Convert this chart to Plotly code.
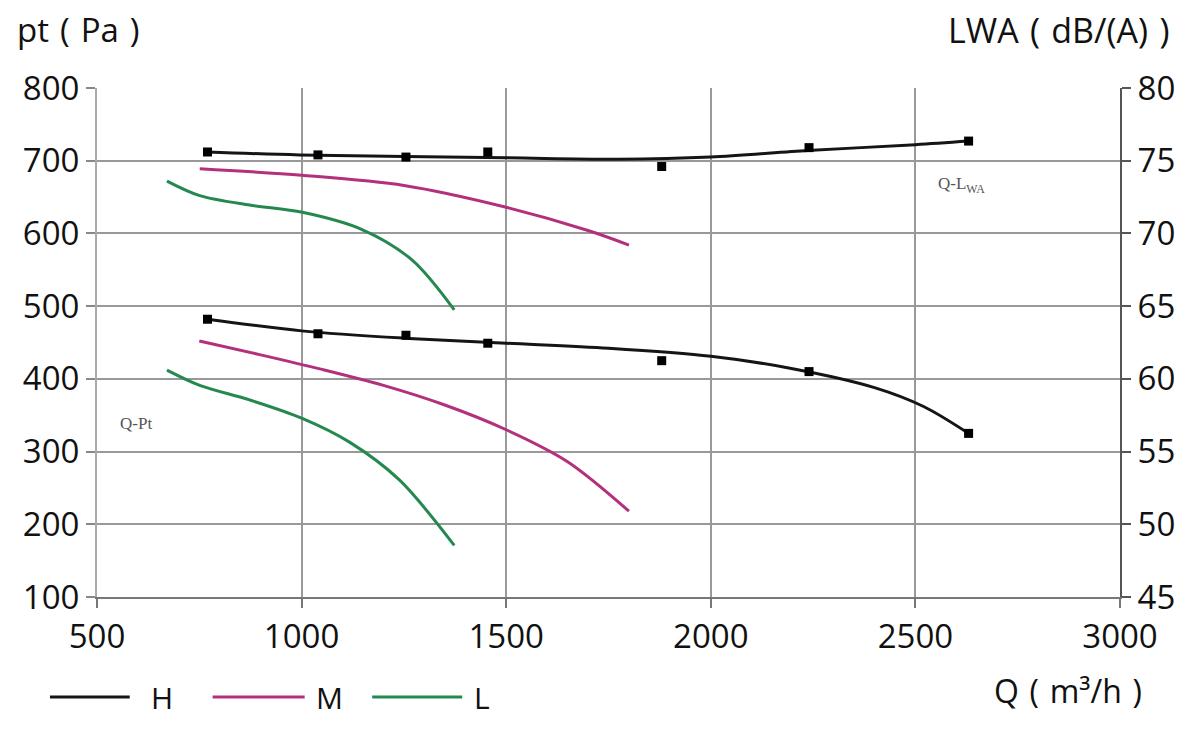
import plotly.graph_objects as go

# ---- data ----
# H : measured points
h_q_pts = [770, 1040, 1255, 1455, 1880, 2240, 2630]
h_pt_pts = [482, 462, 460, 449, 425, 410, 325]
h_lwa_pts = [75.6, 75.4, 75.25, 75.6, 74.6, 75.9, 76.35]

# H : fitted curves
h_q_line = [770, 1000, 1250, 1500, 1750, 2000, 2200, 2400, 2520, 2630]
h_pt_line = [482, 466, 456, 449, 442, 431, 414, 388, 362, 325]
h_lwa_q_line = [770, 995, 1500, 1773, 2000, 2237, 2500, 2630]
h_lwa_line = [75.6, 75.4, 75.2, 75.1, 75.25, 75.7, 76.1, 76.35]

# M curves
m_q = [750, 900, 1050, 1200, 1350, 1500, 1650, 1800]
m_pt = [452, 433, 413, 391, 364, 330, 286, 218]
m_lwa_q = [751, 1000, 1250, 1500, 1700, 1800]
m_lwa = [74.45, 74.0, 73.3, 71.8, 70.2, 69.2]

# L curves
l_q = [671, 751, 873, 1000, 1117, 1239, 1373]
l_pt = [412, 391, 371, 346, 313, 261, 171]
l_lwa_q = [671, 751, 873, 1002, 1149, 1271, 1373]
l_lwa = [73.6, 72.6, 71.95, 71.45, 70.25, 68.15, 64.75]

x_ticks = [500, 1000, 1500, 2000, 2500, 3000]
y_ticks = [100, 200, 300, 400, 500, 600, 700, 800]
y2_ticks = [45, 50, 55, 60, 65, 70, 75, 80]

BLACK = "#151515"
MAGENTA = "#b3307c"
GREEN = "#25894f"
FONT = "Open Sans"
SP = "\u2004"

fig = go.Figure()

def line(x, y, color, axis="y"):
    fig.add_trace(go.Scatter(x=x, y=y, mode="lines", yaxis=axis,
                             line=dict(color=color, width=3, shape="spline", smoothing=0.9),
                             showlegend=False, hoverinfo="skip"))

line(l_q, l_pt, GREEN)
line(m_q, m_pt, MAGENTA)
line(h_q_line, h_pt_line, BLACK)
line(l_lwa_q, l_lwa, GREEN, "y2")
line(m_lwa_q, m_lwa, MAGENTA, "y2")
line(h_lwa_q_line, h_lwa_line, BLACK, "y2")

fig.add_trace(go.Scatter(x=h_q_pts, y=h_pt_pts, mode="markers",
                         marker=dict(symbol="square", size=9, color="#000"),
                         showlegend=False))
fig.add_trace(go.Scatter(x=h_q_pts, y=h_lwa_pts, mode="markers", yaxis="y2",
                         marker=dict(symbol="square", size=9, color="#000"),
                         showlegend=False))

# ---- manual legend ----
legend_items = [("H", BLACK, -0.046, 0.032, 0.064),
                ("M", MAGENTA, 0.113, 0.203, 0.227),
                ("L", GREEN, 0.269, 0.357, 0.376)]
shapes = []
annotations = []
for name, col, x0, x1, xt in legend_items:
    shapes.append(dict(type="line", xref="paper", yref="paper", x0=x0, x1=x1,
                       y0=-0.1965, y1=-0.1965, line=dict(color=col, width=3)))
    annotations.append(dict(text=name, xref="paper", yref="paper", x=xt, y=-0.1965,
                            xanchor="center", yanchor="middle", showarrow=False,
                            font=dict(family=FONT, size=30, color="#111")))

annotations += [
    dict(text=f"pt{SP}({SP}Pa{SP})", xref="paper", yref="paper", x=-0.080, y=1.114,
         xanchor="left", yanchor="middle", showarrow=False,
         font=dict(family=FONT, size=33, color="#111")),
    dict(text=f"LWA{SP}({SP}dB/(A){SP})", xref="paper", yref="paper", x=1.05, y=1.114,
         xanchor="right", yanchor="middle", showarrow=False,
         font=dict(family=FONT, size=34, color="#111")),
    dict(text=f"Q{SP}({SP}m³/h{SP})", xref="paper", yref="paper", x=0.949, y=-0.183,
         xanchor="center", yanchor="middle", showarrow=False,
         font=dict(family=FONT, size=32, color="#111")),
    dict(text="Q-Pt", x=595, y=339, xref="x", yref="y", showarrow=False,
         xanchor="center", yanchor="middle",
         font=dict(family="Liberation Serif", size=17, color="#555")),
    dict(text="Q-L<sub>WA</sub>", x=2612, y=667, xref="x", yref="y", showarrow=False,
         xanchor="center", yanchor="middle",
         font=dict(family="Liberation Serif", size=17, color="#555")),
]

fig.update_layout(
    width=1200, height=733,
    margin=dict(l=97, r=80, t=88, b=136),
    paper_bgcolor="white", plot_bgcolor="white",
    showlegend=False,
    shapes=shapes, annotations=annotations,
    xaxis=dict(range=[500, 3000], tickvals=x_ticks, showgrid=True,
               gridcolor="#999", gridwidth=2, zeroline=False,
               showline=True, linecolor="#777", linewidth=2, mirror=False,
               ticks="outside", ticklen=9, tickcolor="#777", tickwidth=2,
               tickfont=dict(family=FONT, size=33, color="#111")),
    yaxis=dict(range=[100, 800], tickvals=y_ticks, showgrid=True,
               gridcolor="#999", gridwidth=2, zeroline=False,
               showline=True, linecolor="#aaa", linewidth=2,
               ticks="outside", ticklen=9, tickcolor="#888", tickwidth=2,
               tickfont=dict(family=FONT, size=33, color="#111")),
    yaxis2=dict(range=[45, 80], tickvals=y2_ticks, overlaying="y", side="right",
                showgrid=False, zeroline=False,
                showline=True, linecolor="#555", linewidth=2,
                ticks="outside", ticklen=9, tickcolor="#555", tickwidth=2,
                tickfont=dict(family=FONT, size=33, color="#111")),
)

fig.write_html("out.html")
